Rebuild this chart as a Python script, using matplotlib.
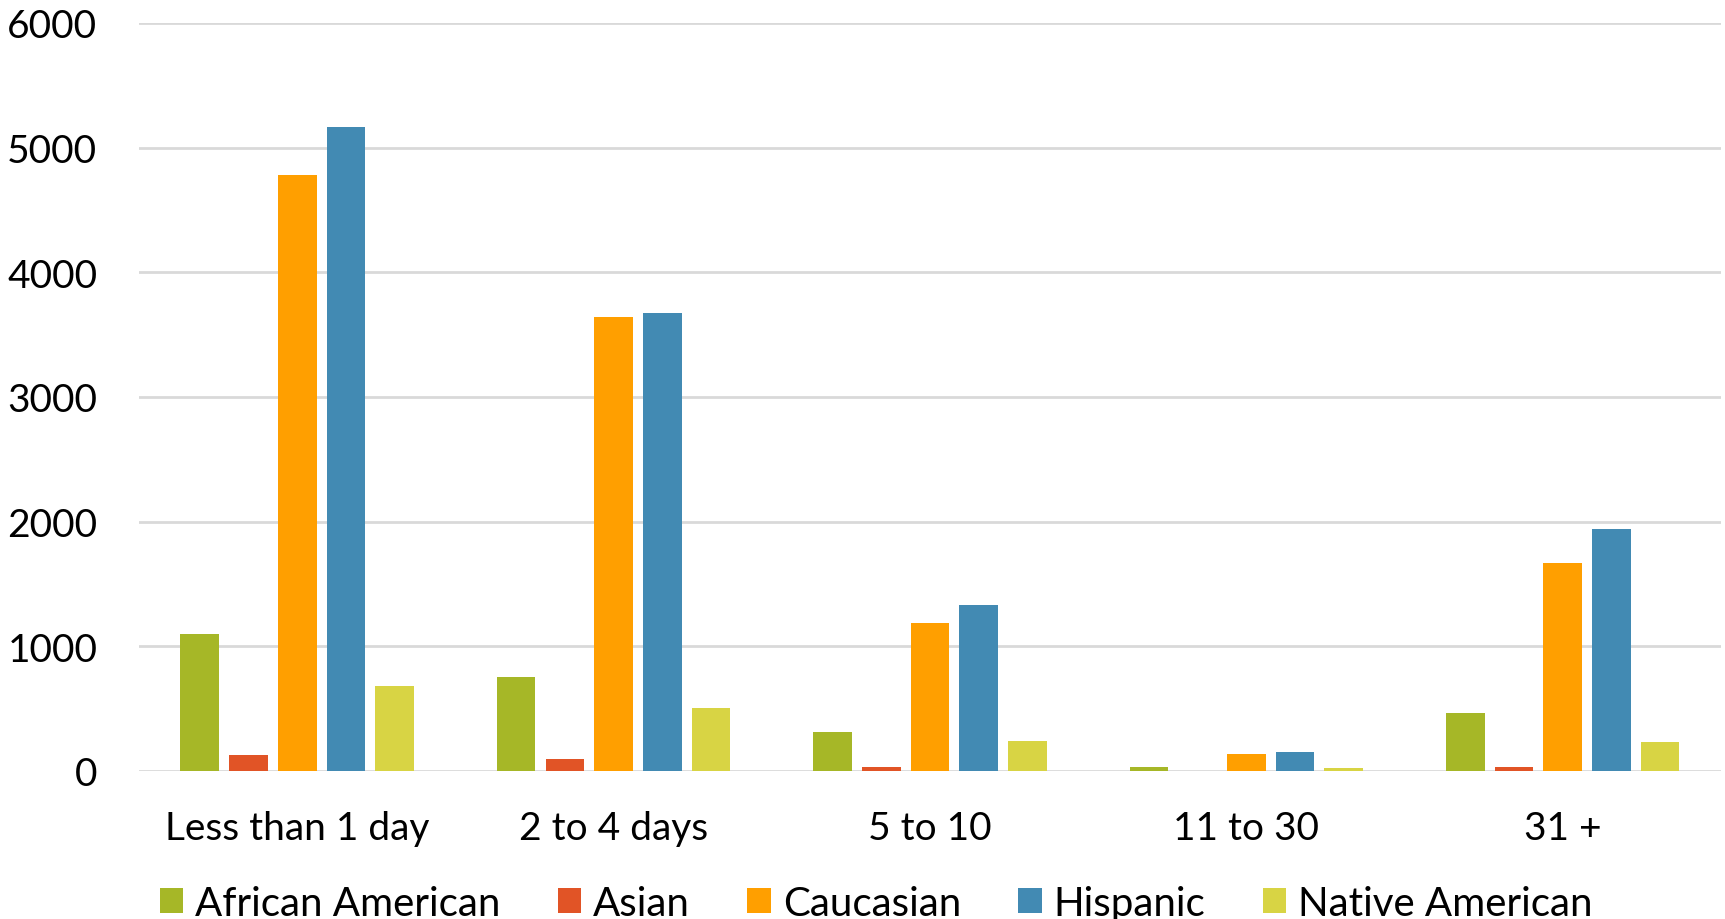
import numpy as np
import matplotlib
matplotlib.use("Agg")
import matplotlib.pyplot as plt

plt.rcParams['font.family'] = ['Lato', 'DejaVu Sans']

# length of stay buckets and counts per group
stays = ["Less than 1 day", "2 to 4 days", "5 to 10", "11 to 30", "31 +"]
african_american = [1100, 756, 311, 30, 464]
asian = [127, 92, 28, 0, 30]
caucasian = [4780, 3640, 1186, 134, 1668]
hispanic = [5165, 3672, 1331, 154, 1942]
native_american = [682, 505, 242, 22, 229]

series = ["African American", "Asian", "Caucasian", "Hispanic", "Native American"]
colors = ["#A6B727", "#E15426", "#FF9F00", "#428AB3", "#D8D444"]

fig = plt.figure(figsize=(17.25, 9.2), dpi=100)
ax = fig.add_axes([0.0806, 0.161, 0.917, 0.813])

x = np.arange(len(stays))
slot = 0.154
width = 0.122
for i, (name, vals, c) in enumerate(zip(series,
        [african_american, asian, caucasian, hispanic, native_american], colors)):
    ax.bar(x + (i - 2) * slot, vals, width, color=c, label=name, zorder=3)

ax.set_xlim(-0.5, len(stays) - 0.5)
ax.set_ylim(0, 6000)
ax.set_yticks(range(0, 6001, 1000))
ax.set_xticks(x)
ax.set_xticklabels(stays)
ax.grid(axis='y', color='#D9D9D9', linewidth=2, zorder=0)
for s in ['top', 'right', 'left', 'bottom']:
    ax.spines[s].set_visible(False)
ax.tick_params(axis='both', length=0, labelsize=28)
ax.tick_params(axis='y', pad=30)
ax.tick_params(axis='x', pad=28)

ax.legend(loc='center', bbox_to_anchor=(0.466, -0.177), ncol=5, frameon=False,
          fontsize=29, handlelength=0.58, handleheight=0.58, handletextpad=0.3,
          columnspacing=1.42)

fig.savefig("out.png", dpi=100, facecolor='white')
